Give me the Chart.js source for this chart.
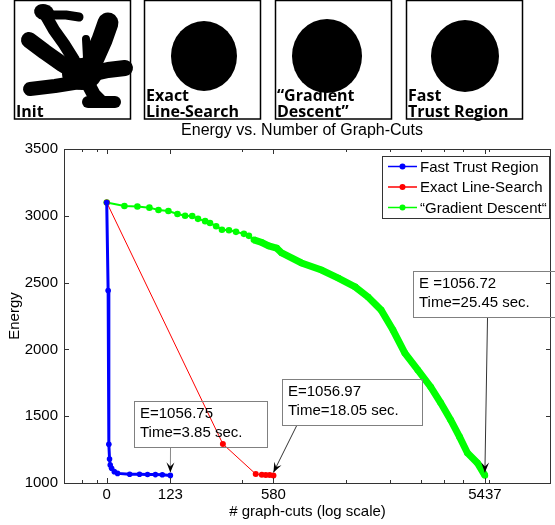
<!DOCTYPE html>
<html>
<head>
<meta charset="utf-8">
<script src="https://cdn.jsdelivr.net/npm/chart.js@4.4.0/dist/chart.umd.min.js"></script>
<style>
  html, body { margin: 0; padding: 0; background: #fff; }
  #wrap { position: relative; width: 555px; height: 525px; }
</style>
</head>
<body>
<div id="wrap"><canvas id="energyChart" width="555" height="525"></canvas></div>
<script>
// x axis is log10(graph-cuts + offset), labels show the raw graph-cut count
const LOG_OFFSET = 145;
const xTickLabels = [0, 123, 580, 5437];
const xMinorTicks = [-31, -13, 389, 1319, 2088, 2861, 3604, 4352, 5685];
const yTickStep = 500;

// Fast Trust Region
const trustCuts = [0, 2, 3, 4, 5, 7, 11, 16, 36, 54, 70, 87, 103, 123];
const trustEnergy = [3100, 2440, 1290, 1180, 1135, 1110, 1085, 1072, 1066, 1065, 1064, 1063, 1062, 1057];

// Exact Line-Search
const exactCuts = [0, 300, 466, 503, 528, 554, 580];
const exactEnergy = [3100, 1292, 1067, 1062, 1060, 1059, 1057];

// "Gradient Descent"
const gradCuts = [0, 27, 50, 74, 94, 118, 142, 164, 186, 205, 230, 248, 272, 296, 327, 360, 400, 427, 455, 503,
  548, 603, 640, 806, 1007, 1211, 1451, 1663, 1904, 2153, 2433, 2775, 3163, 3497, 3866, 4226, 4573, 5049, 5437];
const gradEnergy = [3100, 3073, 3070, 3061, 3043, 3036, 3013, 3000, 2998, 2977, 2960, 2946, 2922, 2896, 2892, 2880, 2865, 2850, 2820, 2800,
  2775, 2758, 2722, 2647, 2594, 2534, 2468, 2392, 2295, 2145, 1973, 1846, 1719, 1600, 1472, 1345, 1225, 1150, 1057];

const seriesLabels = ['Fast Trust Region', 'Exact Line-Search', '\u201cGradient Descent\u201c'];
const seriesColors = ['#0000ff', '#ff0000', '#00ff00'];

const FONT = 'Liberation Sans, Arial, Helvetica, sans-serif';
const toAxis = n => n + LOG_OFFSET;
const points = (cuts, energy) => cuts.map((n, i) => ({ x: toAxis(n), y: energy[i] }));

// the "Init" shape of the first picture, built from round strokes
function drawBlob(ctx) {
  ctx.save();
  ctx.fillStyle = '#000';
  ctx.strokeStyle = '#000';
  ctx.lineCap = 'round';
  ctx.lineJoin = 'round';
  const arm = (w, pts) => {
    ctx.lineWidth = w;
    ctx.beginPath();
    pts.forEach((p, i) => i ? ctx.lineTo(p[0], p[1]) : ctx.moveTo(p[0], p[1]));
    ctx.stroke();
  };
  ctx.beginPath();
  ctx.ellipse(44, 12, 10, 8, 0.2, 0, Math.PI * 2);
  ctx.fill();
  arm(9, [[50, 15], [66, 15], [79, 17]]);
  arm(12, [[46, 16], [54, 30], [64, 44], [74, 60]]);
  arm(16, [[29, 40], [45, 52], [62, 64], [80, 75]]);
  arm(14, [[30, 89], [55, 86], [80, 82]]);
  arm(8, [[86, 39], [87, 58]]);
  arm(21, [[108, 23], [102, 40], [94, 58], [88, 72]]);
  arm(16, [[125, 68], [108, 70], [90, 74]]);
  arm(14, [[86, 80], [94, 95], [100, 101]]);
  arm(12, [[88, 102], [115, 102]]);
  ctx.beginPath();
  ctx.ellipse(82, 74, 20, 16, 0, 0, Math.PI * 2);
  ctx.fill();
  ctx.restore();
}

const panels = [
  { left: 14, lines: ['Init'] },
  { left: 144, lines: ['Exact', 'Line-Search'], circle: [204, 56, 33, 35] },
  { left: 275, lines: ['\u201cGradient', 'Descent\u201d'], circle: [327, 56, 35, 37] },
  { left: 406, lines: ['Fast', 'Trust Region'], circle: [465, 56, 34, 36] }
];

const panelsPlugin = {
  id: 'panels',
  afterDraw(chart) {
    const ctx = chart.ctx;
    ctx.save();
    panels.forEach((p, k) => {
      if (k === 0) drawBlob(ctx);
      if (p.circle) {
        ctx.fillStyle = '#000';
        ctx.beginPath();
        ctx.ellipse(p.circle[0], p.circle[1], p.circle[2], p.circle[3], 0, 0, Math.PI * 2);
        ctx.fill();
      }
      ctx.strokeStyle = '#000';
      ctx.lineWidth = 1.5;
      ctx.strokeRect(p.left + 0.5, 0.5, 116, 118.5);
      ctx.fillStyle = '#000';
      ctx.font = 'bold 16px "Open Sans", sans-serif';
      ctx.textBaseline = 'alphabetic';
      ctx.textAlign = 'left';
      const n = p.lines.length;
      p.lines.forEach((t, i) => ctx.fillText(t, p.left + 2, 117 - (n - 1 - i) * 16));
    });
    // chart title
    ctx.font = '16px ' + FONT;
    ctx.textAlign = 'center';
    ctx.textBaseline = 'middle';
    ctx.fillText('Energy vs. Number of Graph-Cuts', 302, 131);
    ctx.restore();
  }
};

// box round the axes with inward ticks, MATLAB style
const framePlugin = {
  id: 'frame',
  afterDatasetsDraw(chart) {
    const { ctx, chartArea: a, scales: { x, y } } = chart;
    ctx.save();
    ctx.strokeStyle = '#333';
    ctx.lineWidth = 1;
    ctx.beginPath();
    x.ticks.forEach(t => {
      const px = Math.round(x.getPixelForValue(t.value)) + 0.5;
      ctx.moveTo(px, a.bottom); ctx.lineTo(px, a.bottom - 5);
      ctx.moveTo(px, a.top); ctx.lineTo(px, a.top + 5);
    });
    xMinorTicks.forEach(n => {
      const px = Math.round(x.getPixelForValue(toAxis(n))) + 0.5;
      ctx.moveTo(px, a.bottom); ctx.lineTo(px, a.bottom - 3);
      ctx.moveTo(px, a.top); ctx.lineTo(px, a.top + 3);
    });
    y.ticks.forEach(t => {
      const py = Math.round(y.getPixelForValue(t.value)) + 0.5;
      ctx.moveTo(a.left, py); ctx.lineTo(a.left + 5, py);
      ctx.moveTo(a.right, py); ctx.lineTo(a.right - 5, py);
    });
    ctx.stroke();
    ctx.strokeRect(Math.round(a.left) + 0.5, Math.round(a.top) + 0.5,
      Math.round(a.right - a.left) - 1, Math.round(a.bottom - a.top));
    ctx.restore();
  }
};

// text boxes with arrows pointing at the last point of each series
const notes = [
  { series: 0, lines: ['E=1056.75', 'Time=3.85 sec.'], box: [134, 401, 133, 46], from: [170, 447], line: '#888' },
  { series: 1, lines: ['E=1056.97', 'Time=18.05 sec.'], box: [282, 379, 140, 46], from: [296, 425], line: '#333' },
  { series: 2, lines: ['E =1056.72', 'Time=25.45 sec.'], box: [413, 271, 143, 46], from: [487, 317], line: '#333' }
];

function arrow(ctx, x0, y0, x1, y1, color) {
  ctx.strokeStyle = color;
  ctx.lineWidth = 1;
  ctx.beginPath(); ctx.moveTo(x0, y0); ctx.lineTo(x1, y1); ctx.stroke();
  ctx.save();
  ctx.translate(x1, y1);
  ctx.rotate(Math.atan2(y1 - y0, x1 - x0));
  ctx.fillStyle = '#000';
  ctx.beginPath();
  ctx.moveTo(0, 0); ctx.lineTo(-10, -4); ctx.lineTo(-6, 0); ctx.lineTo(-10, 4);
  ctx.closePath(); ctx.fill();
  ctx.restore();
}

const notesPlugin = {
  id: 'notes',
  afterDatasetsDraw(chart) {
    const ctx = chart.ctx;
    ctx.save();
    notes.forEach(nt => {
      const meta = chart.getDatasetMeta(nt.series);
      const last = meta.data[meta.data.length - 1];
      const b = nt.box;
      ctx.strokeStyle = '#808080';
      ctx.lineWidth = 1;
      ctx.strokeRect(b[0] + 0.5, b[1] + 0.5, b[2], b[3]);
      ctx.fillStyle = '#000';
      ctx.font = '15px ' + FONT;
      ctx.textAlign = 'left';
      ctx.textBaseline = 'middle';
      nt.lines.forEach((t, i) => ctx.fillText(t, b[0] + 6, b[1] + 13 + i * 19));
      arrow(ctx, nt.from[0] + 0.5, nt.from[1] + 1, last.x, last.y - 3, nt.line);
    });
    ctx.restore();
  }
};

const legendPlugin = {
  id: 'boxLegend',
  afterDraw(chart) {
    const ctx = chart.ctx;
    const bx = 382, by = 156, bw = 167, bh = 62;
    ctx.save();
    ctx.fillStyle = '#fff';
    ctx.fillRect(bx, by, bw, bh);
    ctx.strokeStyle = '#333';
    ctx.lineWidth = 1;
    ctx.strokeRect(bx + 0.5, by + 0.5, bw, bh);
    ctx.font = '15px ' + FONT;
    ctx.textBaseline = 'middle';
    ctx.textAlign = 'left';
    seriesLabels.forEach((label, i) => {
      const cy = by + 10.5 + i * 20.5;
      ctx.strokeStyle = seriesColors[i];
      ctx.lineWidth = 1.5;
      ctx.beginPath(); ctx.moveTo(bx + 6, cy); ctx.lineTo(bx + 35, cy); ctx.stroke();
      ctx.fillStyle = seriesColors[i];
      ctx.beginPath(); ctx.arc(bx + 20.5, cy, 3, 0, Math.PI * 2); ctx.fill();
      ctx.fillStyle = '#000';
      ctx.fillText(label, bx + 38, cy + 1);
    });
    ctx.restore();
  }
};

const tickFont = { family: FONT, size: 15 };

const chart = new Chart(document.getElementById('energyChart').getContext('2d'), {
  type: 'line',
  data: {
    datasets: [
      {
        label: seriesLabels[0],
        data: points(trustCuts, trustEnergy),
        borderColor: seriesColors[0], backgroundColor: seriesColors[0],
        borderWidth: 3, pointRadius: 2.8, pointBorderWidth: 0
      },
      {
        label: seriesLabels[1],
        data: points(exactCuts, exactEnergy),
        borderColor: seriesColors[1], backgroundColor: seriesColors[1],
        borderWidth: 1, pointRadius: 3, pointBorderWidth: 0
      },
      {
        label: seriesLabels[2],
        data: points(gradCuts, gradEnergy),
        borderColor: seriesColors[2], backgroundColor: seriesColors[2],
        borderWidth: 2, pointRadius: 3.3, pointBorderWidth: 0,
        segment: { borderWidth: c => c.p0.parsed.x >= toAxis(455) ? 7 : 2 }
      }
    ]
  },
  options: {
    responsive: false,
    animation: false,
    events: [],
    layout: { padding: { top: 149, left: 0, right: 1, bottom: 0 } },
    elements: { line: { tension: 0 } },
    plugins: {
      legend: { display: false },
      title: { display: false },
      tooltip: { enabled: false }
    },
    scales: {
      x: {
        type: 'logarithmic',
        min: 96,
        max: 10566,
        grid: { display: false, drawTicks: false },
        border: { display: false },
        afterBuildTicks: s => { s.ticks = xTickLabels.map(v => ({ value: toAxis(v) })); },
        afterFit: s => { s.height = 42; },
        ticks: {
          autoSkip: false, maxRotation: 0, padding: 3, color: '#000', font: tickFont,
          callback: (v, i) => String(xTickLabels[i])
        },
        title: {
          display: true, text: '# graph-cuts (log scale)', color: '#000', font: tickFont,
          padding: { top: 0, bottom: 4 }
        }
      },
      y: {
        min: 1000,
        max: 3500,
        grid: { display: false, drawTicks: false },
        border: { display: false },
        afterFit: s => { s.width = 64; },
        ticks: {
          stepSize: yTickStep, padding: 6, color: '#000', font: tickFont,
          callback: v => String(v)
        },
        title: {
          display: true, text: 'Energy', color: '#000', font: tickFont,
          padding: { top: 6, bottom: 0 }
        }
      }
    }
  },
  plugins: [framePlugin, notesPlugin, legendPlugin, panelsPlugin]
});
</script>
</body>
</html>
